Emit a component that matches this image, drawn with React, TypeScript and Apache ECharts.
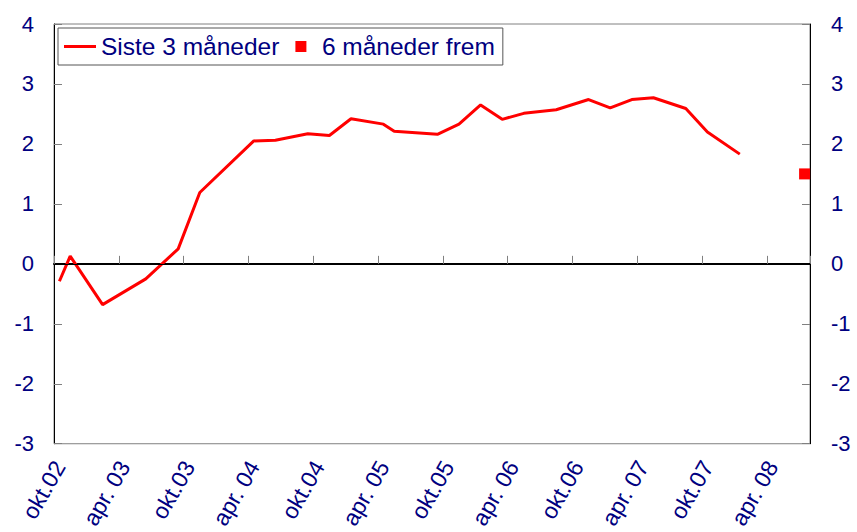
import React, { useEffect, useRef } from "react";
import * as echarts from "echarts";

// Monthly category axis: okt 2002 .. jul 2008
const startYear = 2002;
const startMonth = 10;
const monthCount = 70;

const tickLabels = [
  "okt.02", "apr. 03", "okt.03", "apr. 04", "okt.04", "apr. 05",
  "okt.05", "apr. 06", "okt.06", "apr. 07", "okt.07", "apr. 08",
];

// "Siste 3 måneder" observations
const obsMonths = [
  "2002-10", "2002-11", "2003-02", "2003-06", "2003-09", "2003-11",
  "2004-04", "2004-06", "2004-09", "2004-11", "2005-01", "2005-04",
  "2005-05", "2005-09", "2005-11", "2006-01", "2006-03", "2006-05",
  "2006-08", "2006-11", "2007-01", "2007-03", "2007-05", "2007-08",
  "2007-10", "2008-01",
];
const obsValues = [
  -0.29, 0.13, -0.68, -0.25, 0.25, 1.19,
  2.05, 2.06, 2.17, 2.14, 2.42, 2.33,
  2.21, 2.16, 2.33, 2.65, 2.41, 2.51,
  2.57, 2.74, 2.6, 2.74, 2.77, 2.59,
  2.2, 1.83,
];

// "6 måneder frem"
const fcMonths = ["2008-07"];
const fcValues = [1.5];

const yTicks = [-3, -2, -1, 0, 1, 2, 3, 4];

const NAVY = "#000080";
const RED = "#FF0000";
const FONT = "Arial, 'Liberation Sans', sans-serif";

function buildCategories(): string[] {
  const out: string[] = [];
  for (let i = 0; i < monthCount; i++) {
    const m0 = startMonth - 1 + i;
    const y = startYear + Math.floor(m0 / 12);
    const m = (m0 % 12) + 1;
    out.push(`${y}-${m < 10 ? "0" + m : m}`);
  }
  return out;
}

export default function App() {
  const ref = useRef<HTMLDivElement>(null);

  useEffect(() => {
    if (!ref.current) return;
    const chart = echarts.init(ref.current, undefined, { renderer: "svg" });
    const categories = buildCategories();
    const lineData = categories.map((c) => {
      const k = obsMonths.indexOf(c);
      return k >= 0 ? obsValues[k] : null;
    });
    const fcData = categories.map((c) => {
      const k = fcMonths.indexOf(c);
      return k >= 0 ? fcValues[k] : null;
    });

    const yAxisCommon = {
      type: "value" as const,
      min: yTicks[0],
      max: yTicks[yTicks.length - 1],
      interval: 1,
      splitLine: { show: false },
      axisLine: { show: true, lineStyle: { color: "#000", width: 1 } },
      axisTick: { show: true, inside: true, length: 8, lineStyle: { color: "#808080", width: 1 } },
    };

    chart.setOption({
      animation: false,
      backgroundColor: "#fff",
      textStyle: { fontFamily: FONT },
      grid: {
        left: 54,
        right: 47,
        top: 24,
        bottom: 87,
        show: true,
        borderColor: "#808080",
        borderWidth: 1,
        backgroundColor: "transparent",
      },
      legend: {
        left: 58,
        top: 28,
        orient: "horizontal",
        itemWidth: 32,
        itemHeight: 11,
        itemGap: 16,
        padding: [6, 8, 6, 6],
        borderColor: "#555",
        borderWidth: 1,
        backgroundColor: "#fff",
        textStyle: { color: NAVY, fontSize: 24.5, fontFamily: FONT },
        data: [
          { name: "Siste 3 måneder", icon: "path://M0,0H32V3H0Z" },
          { name: "6 måneder frem", icon: "path://M0,0H10V10H0Z" },
        ],
      },
      xAxis: {
        type: "category",
        data: categories,
        boundaryGap: true,
        axisLine: { show: true, lineStyle: { color: "#000", width: 2 } },
        axisTick: { show: true, inside: true, length: 8, interval: 5, lineStyle: { color: "#808080" } },
        splitLine: { show: false },
        axisLabel: {
          interval: 5,
          rotate: 60,
          margin: 19,
          color: NAVY,
          fontSize: 23,
          fontFamily: FONT,
          formatter: (_v: string, idx: number) => tickLabels[Math.floor(idx / 6)] ?? "",
        },
      },
      yAxis: [
        {
          ...yAxisCommon,
          position: "left",
          axisLabel: { color: NAVY, fontSize: 22, fontFamily: FONT, margin: 20 },
        },
        {
          ...yAxisCommon,
          position: "right",
          axisLabel: { color: NAVY, fontSize: 22, fontFamily: FONT, margin: 21 },
        },
      ],
      series: [
        {
          name: "Siste 3 måneder",
          type: "line",
          data: lineData,
          connectNulls: true,
          symbol: "none",
          lineStyle: { color: RED, width: 3 },
          itemStyle: { color: RED },
          z: 3,
          markLine: {
            silent: true,
            symbol: "none",
            label: { show: false },
            lineStyle: { color: "#000", width: 1, type: "solid" },
            data: [{ yAxis: 0 }],
          },
        },
        {
          name: "6 måneder frem",
          type: "scatter",
          data: fcData,
          symbol: "rect",
          symbolSize: 11,
          itemStyle: { color: RED, opacity: 1 },
          z: 4,
        },
      ],
    });
    return () => chart.dispose();
  }, []);

  return (
    <div
      ref={ref}
      style={{ position: "fixed", left: 0, top: 0, width: 857, height: 532, background: "#fff" }}
    />
  );
}
